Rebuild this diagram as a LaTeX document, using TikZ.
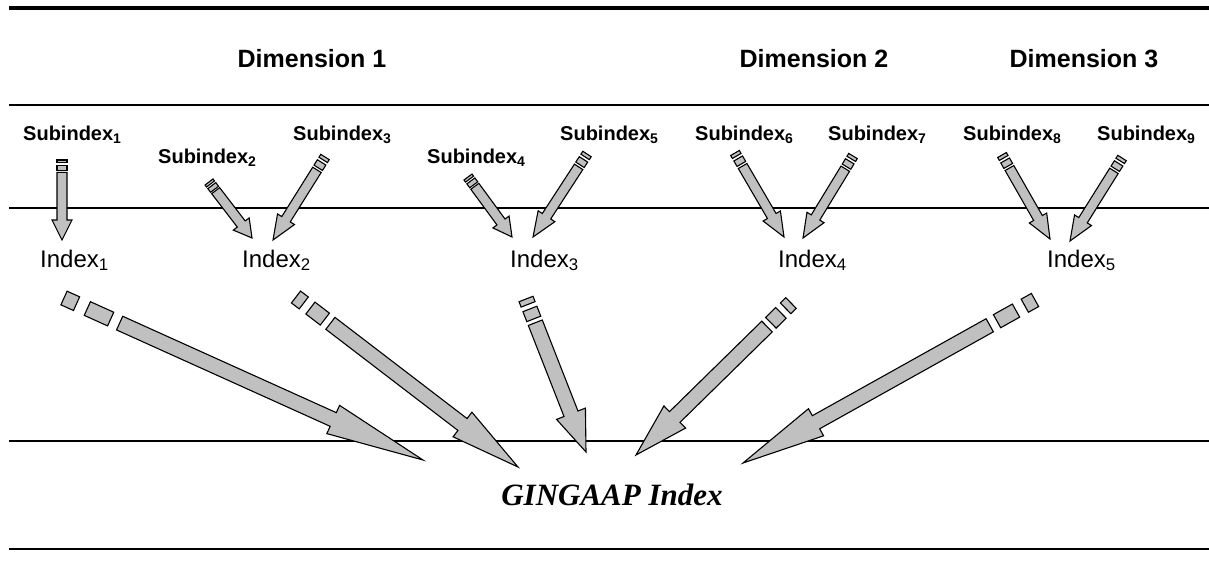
\documentclass[tikz,border=0pt]{standalone}
\usepackage{fontspec}
\setmainfont{Liberation Sans}
\newfontfamily\timesfam{Liberation Serif}
\definecolor{arrowgray}{HTML}{C0C0C0}
\tikzset{
  arrowpart/.style={fill=arrowgray, draw=black, line width=1.1pt, line join=miter},
  rulethin/.style={line width=1.3pt},
  rulethick/.style={line width=4pt},
  dimlabel/.style={font=\fontsize{25}{30}\selectfont\bfseries, anchor=base, inner sep=0pt},
  sublabel/.style={font=\fontsize{20}{24}\selectfont\bfseries, anchor=base west, inner sep=0pt},
  idxlabel/.style={font=\fontsize{24}{28}\selectfont, anchor=base west, inner sep=0pt},
  finallabel/.style={font=\fontsize{31}{36}\selectfont\timesfam\bfseries\itshape, anchor=base, inner sep=0pt}
}
% striped block arrow from #1 (tail) to #2 (tip); #3 half body width, #4 half head width
\newcommand\sarrow[4]{%
  \pgfmathanglebetweenpoints{\pgfpointanchor{#1}{center}}{\pgfpointanchor{#2}{center}}%
  \let\sang\pgfmathresult
  \pgfpointdiff{\pgfpointanchor{#1}{center}}{\pgfpointanchor{#2}{center}}%
  \pgfgetlastxy{\sdx}{\sdy}%
  \pgfmathveclen{\sdx}{\sdy}\let\slen\pgfmathresult
  \begin{scope}[shift={(#1)}, rotate=\sang, x=1pt, y=1pt]
    \draw[arrowpart] (0,-#3) rectangle ({0.035*\slen},#3);
    \draw[arrowpart] ({0.065*\slen},-#3) rectangle ({0.13*\slen},#3);
    \draw[arrowpart] ({0.155*\slen},-#3) -- ({0.75*\slen},-#3) -- ({0.75*\slen},-#4)
       -- (\slen,0) -- ({0.75*\slen},#4) -- ({0.75*\slen},#3) -- ({0.155*\slen},#3) -- cycle;
  \end{scope}}
\begin{document}
\begin{tikzpicture}[x=1pt, y=-1pt]
\useasboundingbox (0,0) rectangle (1209,586);
% rules
\coordinate (r0a) at (9,8);   \coordinate (r0b) at (1209,8);
\coordinate (r1a) at (9,105); \coordinate (r1b) at (1209,105);
\coordinate (r2a) at (9,208); \coordinate (r2b) at (1209,208);
\coordinate (r3a) at (9,441); \coordinate (r3b) at (1209,441);
\coordinate (r4a) at (9,549); \coordinate (r4b) at (1209,549);
\draw[rulethick] (r0a) -- (r0b);
\draw[rulethin] (r1a) -- (r1b);
\draw[rulethin] (r2a) -- (r2b);
\draw[rulethin] (r3a) -- (r3b);
\draw[rulethin] (r4a) -- (r4b);
% headings
\node[dimlabel] (d1) at (312,67) {Dimension 1};
\node[dimlabel] (d2) at (814,67) {Dimension 2};
\node[dimlabel] (d3) at (1084,67) {Dimension 3};
% subindex labels
\node[sublabel] (l1) at (23,140) {Subindex\textsubscript{1}};
\node[sublabel] (l2) at (158,163) {Subindex\textsubscript{2}};
\node[sublabel] (l3) at (293,140) {Subindex\textsubscript{3}};
\node[sublabel] (l4) at (427,163) {Subindex\textsubscript{4}};
\node[sublabel] (l5) at (560,140) {Subindex\textsubscript{5}};
\node[sublabel] (l6) at (695,140) {Subindex\textsubscript{6}};
\node[sublabel] (l7) at (828,140) {Subindex\textsubscript{7}};
\node[sublabel] (l8) at (963,140) {Subindex\textsubscript{8}};
\node[sublabel] (l9) at (1097,140) {Subindex\textsubscript{9}};
% index labels
\node[idxlabel] (i1) at (40,267) {Index\textsubscript{1}};
\node[idxlabel] (i2) at (242,267) {Index\textsubscript{2}};
\node[idxlabel] (i3) at (510,267) {Index\textsubscript{3}};
\node[idxlabel] (i4) at (778,267) {Index\textsubscript{4}};
\node[idxlabel] (i5) at (1047,267) {Index\textsubscript{5}};
% final
\node[finallabel] (g) at (612,505) {GINGAAP Index};
% small arrow end points
\coordinate (s1t) at (62,160);   \coordinate (s1h) at (62,240);
\coordinate (s2t) at (209,182);  \coordinate (s2h) at (252,238);
\coordinate (s3t) at (325,157);  \coordinate (s3h) at (273,240);
\coordinate (s4t) at (468,177);  \coordinate (s4h) at (512,237);
\coordinate (s5t) at (587,154);  \coordinate (s5h) at (533,237);
\coordinate (s6t) at (735,153);  \coordinate (s6h) at (784,237);
\coordinate (s7t) at (853,156);  \coordinate (s7h) at (803,238);
\coordinate (s8t) at (1002,155); \coordinate (s8h) at (1050,239);
\coordinate (s9t) at (1122,158); \coordinate (s9h) at (1070,241);
\sarrow{s1t}{s1h}{5}{10}
\sarrow{s2t}{s2h}{5}{10}
\sarrow{s3t}{s3h}{5}{10}
\sarrow{s4t}{s4h}{5}{10}
\sarrow{s5t}{s5h}{5}{10}
\sarrow{s6t}{s6h}{5}{10}
\sarrow{s7t}{s7h}{5}{10}
\sarrow{s8t}{s8h}{5}{10}
\sarrow{s9t}{s9h}{5}{10}
% big arrow end points
\coordinate (b1t) at (64,298);   \coordinate (b1h) at (423,460);
\coordinate (b2t) at (296,297);  \coordinate (b2h) at (518,467);
\coordinate (b3t) at (526,299);  \coordinate (b3h) at (586,452);
\coordinate (b4t) at (791,303);  \coordinate (b4h) at (636,455);
\coordinate (b5t) at (1035,300); \coordinate (b5h) at (743,463);
\sarrow{b1t}{b1h}{7.5}{15.5}
\sarrow{b2t}{b2h}{7.5}{15.5}
\sarrow{b3t}{b3h}{7.5}{15.5}
\sarrow{b4t}{b4h}{7.5}{15.5}
\sarrow{b5t}{b5h}{7.5}{15.5}
\end{tikzpicture}
\end{document}
